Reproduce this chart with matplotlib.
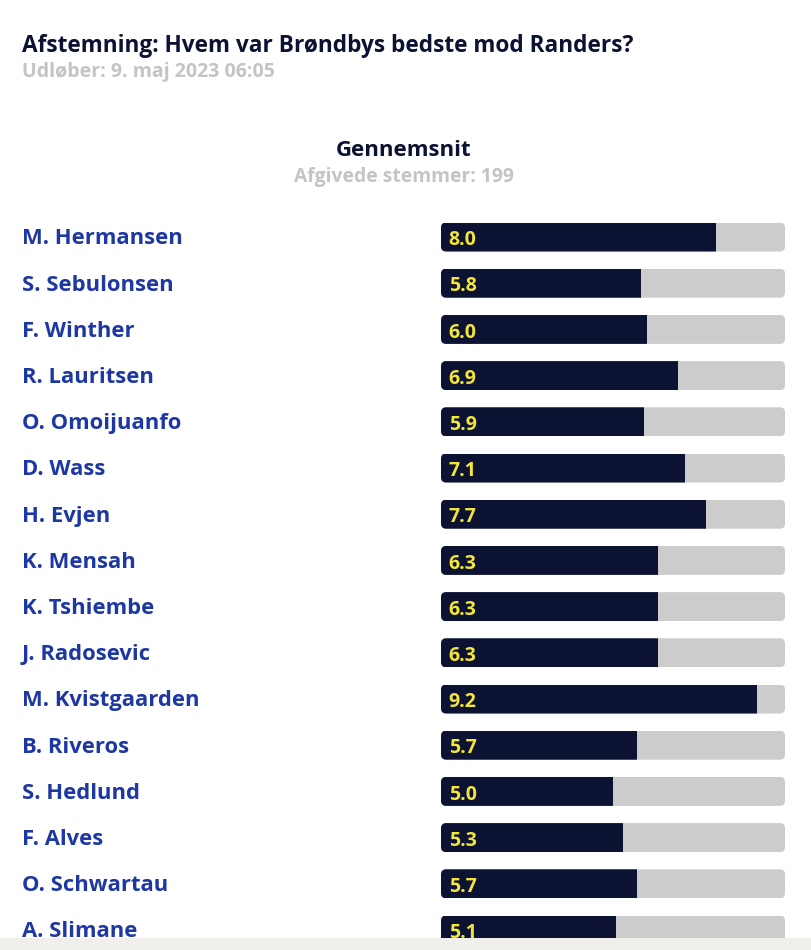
import matplotlib
matplotlib.use("Agg")
import matplotlib.pyplot as plt
from matplotlib.patches import Rectangle, FancyBboxPatch
import matplotlib.transforms as mtransforms

title = "Afstemning: Hvem var Brøndbys bedste mod Randers?"
subtitle = "Udløber: 9. maj 2023 06:05"
heading = "Gennemsnit"
votes_label = "Afgivede stemmer: 199"

players = ["M. Hermansen", "S. Sebulonsen", "F. Winther", "R. Lauritsen",
           "O. Omoijuanfo", "D. Wass", "H. Evjen", "K. Mensah", "K. Tshiembe",
           "J. Radosevic", "M. Kvistgaarden", "B. Riveros", "S. Hedlund",
           "F. Alves", "O. Schwartau", "A. Slimane"]
ratings = [8.0, 5.8, 6.0, 6.9, 5.9, 7.1, 7.7, 6.3, 6.3, 6.3, 9.2, 5.7, 5.0,
           5.3, 5.7, 5.1]
max_rating = 10

W, H = 812, 950
fig = plt.figure(figsize=(W / 100, H / 100), dpi=100)
fig.patch.set_facecolor("white")

FONT = ["Open Sans", "DejaVu Sans"]
NAVY = "#0b1232"
BLUE = "#1d37a3"
GRAY_TXT = "#c4c4c4"
TRACK = "#cccccc"
YELLOW = "#f3e53a"

def fx(px):
    return px / W

def fy(py):
    return 1 - py / H

fig.text(fx(22), fy(46), title, fontsize=16.3, fontweight="bold", color=NAVY,
         family=FONT, ha="left", va="center")
fig.text(fx(22), fy(72), subtitle, fontsize=14, fontweight="bold", color=GRAY_TXT,
         family=FONT, ha="left", va="center")
fig.text(fx(403.5), fy(151), heading, fontsize=16, fontweight="bold", color=NAVY,
         family=FONT, ha="center", va="center")
fig.text(fx(403.5), fy(177), votes_label, fontsize=13.9, fontweight="bold", color=GRAY_TXT,
         family=FONT, ha="center", va="center")

n = len(players)
row = 46.2
top_px = 237 - row / 2
ax_h = n * row
ax = fig.add_axes([fx(441), fy(top_px + ax_h), fx(785) - fx(441), ax_h / H])
ax.set_xlim(0, max_rating)
ax.set_ylim(n - 0.5, -0.5)
ax.axis("off")

bar_h = 29 / row
aspect = (bar_h / 29) / (max_rating / 344)
tracks = ax.barh(range(n), [max_rating] * n, height=bar_h, color=TRACK,
                 edgecolor="none", zorder=1)
fills = ax.barh(range(n), ratings, height=bar_h, color=NAVY,
                edgecolor="none", zorder=2)
for i, (t, f) in enumerate(zip(tracks, fills)):
    rounded = FancyBboxPatch((t.get_x(), t.get_y()), t.get_width(), t.get_height(),
                             boxstyle="round,pad=0,rounding_size=0.15",
                             mutation_aspect=aspect, facecolor="none",
                             edgecolor="none", transform=ax.transData)
    ax.add_patch(rounded)
    t.set_clip_path(rounded)
    f.set_clip_path(rounded)
    ax.text(0.22, i + 0.07, f"{ratings[i]:.1f}", fontsize=14, fontweight="bold",
            color=YELLOW, family=FONT, ha="left", va="center", zorder=3)

trans = mtransforms.blended_transform_factory(fig.transFigure, ax.transData)
for i, name in enumerate(players):
    ax.text(fx(22), i + 0.04, name, transform=trans, fontsize=15.8, fontweight="bold",
            color=BLUE, family=FONT, ha="left", va="center", clip_on=False)

fig.patches.append(Rectangle((0, 0), 1, 12 / H, transform=fig.transFigure,
                             facecolor="#f0efeb", edgecolor="none", zorder=10))

fig.savefig("out.png", dpi=100, facecolor="white")
